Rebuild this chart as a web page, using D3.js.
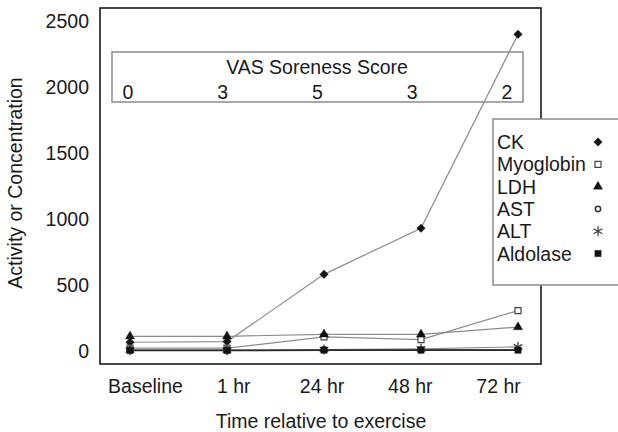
<!DOCTYPE html>
<html>
<head>
<meta charset="utf-8">
<script src="https://cdn.jsdelivr.net/npm/d3@7"></script>
<style>
  html, body { margin: 0; padding: 0; background: #fff; }
  svg text { font-family: "Liberation Sans", Arial, Helvetica, sans-serif; fill: #1a1a1a; }
</style>
</head>
<body>
<svg id="chart" width="618" height="432"></svg>
<script>
// ---- data ----
const timepoints = ["Baseline", "1 hr", "24 hr", "48 hr", "72 hr"];
const ck        = [65, 70, 580, 930, 2400];
const myoglobin = [20, 20, 105, 85, 305];
const ldh       = [110, 110, 125, 125, 180];
const ast       = [10, 10, 10, 10, 10];
const alt       = [5, 5, 10, 15, 30];
const aldolase  = [2, 2, 5, 5, 5];
const seriesNames = ["CK", "Myoglobin", "LDH", "AST", "ALT", "Aldolase"];
const vasScores = [0, 3, 5, 3, 2];
const yTicks = [0, 500, 1000, 1500, 2000, 2500];

const seriesValues = [ck, myoglobin, ldh, ast, alt, aldolase];
const symbols = [d3.symbolDiamond2, d3.symbolSquare, d3.symbolTriangle, d3.symbolCircle, d3.symbolAsterisk, d3.symbolSquare];
const symSize = [46, 36, 36, 22, 70, 40];
const symFill = ["#111", "#fff", "#111", "#fff", "none", "#111"];
const symStroke = ["#111", "#444", "#111", "#333", "#444", "#111"];
const symStrokeW = [0.4, 1.2, 0.4, 1.5, 1.3, 0.4];
const lineColor = ["#8c8c8c", "#8c8c8c", "#8c8c8c", "#8c8c8c", "#8c8c8c", "#2a2a2a"];

const svg = d3.select("#chart");
const plot = { left: 100, right: 541, top: 8, bottom: 364 };
const FS = "19.5px";

const x = d3.scalePoint().domain(timepoints).range([130, 518]);
const xLabel = d3.scalePoint().domain(timepoints).range([145, 498]);
const y = d3.scaleLinear().domain([-100, 2600]).range([plot.bottom, plot.top]);

// VAS box
const vasX = d3.scalePoint().domain(d3.range(vasScores.length)).range([128, 507]);
svg.append("rect")
  .attr("x", 112).attr("y", 52).attr("width", 411).attr("height", 50)
  .attr("fill", "none").attr("stroke", "#8a8a8a").attr("stroke-width", 1.5);
svg.append("text").attr("x", 317).attr("y", 73.5).attr("text-anchor", "middle")
  .style("font-size", FS).text("VAS Soreness Score");
svg.selectAll(".vas").data(vasScores).join("text")
  .attr("class", "vas")
  .attr("x", (d, i) => vasX(i)).attr("y", 98.5).attr("text-anchor", "middle")
  .style("font-size", FS).text(d => d);

// lines
const line = d3.line().x((d, i) => x(timepoints[i])).y(d => y(d));
seriesValues.forEach((vals, s) => {
  svg.append("path").datum(vals)
    .attr("d", line).attr("fill", "none")
    .attr("stroke", lineColor[s]).attr("stroke-width", s === 5 ? 1.6 : 1.2);
});

// markers
function drawSymbol(g, s, cx, cy) {
  return g.append("path")
    .attr("d", d3.symbol().type(symbols[s]).size(symSize[s])())
    .attr("transform", `translate(${cx},${cy})`)
    .attr("fill", symFill[s]).attr("stroke", symStroke[s])
    .attr("stroke-width", symStrokeW[s]);
}
seriesValues.forEach((vals, s) => {
  const g = svg.append("g");
  vals.forEach((v, i) => drawSymbol(g, s, x(timepoints[i]), y(v)));
});

// plot frame
svg.append("rect")
  .attr("x", plot.left).attr("y", plot.top)
  .attr("width", plot.right - plot.left).attr("height", plot.bottom - plot.top)
  .attr("fill", "none").attr("stroke", "#1a1a1a").attr("stroke-width", 1.6);

// axes
const yAxis = svg.append("g").attr("transform", `translate(${plot.left},0)`)
  .call(d3.axisLeft(y).tickValues(yTicks).tickFormat(d3.format("d")).tickSize(0).tickPadding(11));
yAxis.select(".domain").remove();
yAxis.selectAll("text").style("font-size", FS).attr("fill", "#1a1a1a");

const xAxis = svg.append("g").attr("transform", `translate(0,${plot.bottom})`)
  .call(d3.axisBottom(xLabel).tickSize(0).tickPadding(15));
xAxis.select(".domain").remove();
xAxis.selectAll("text").style("font-size", FS).attr("fill", "#1a1a1a");

// axis titles
svg.append("text").attr("x", 321).attr("y", 428).attr("text-anchor", "middle")
  .style("font-size", FS).text("Time relative to exercise");
svg.append("text").attr("transform", "translate(22,183) rotate(-90)")
  .attr("text-anchor", "middle").style("font-size", FS).text("Activity or Concentration");

// legend
const leg = svg.append("g");
leg.append("rect").attr("x", 493).attr("y", 119).attr("width", 140).attr("height", 166)
  .attr("fill", "#fff").attr("stroke", "#8a8a8a").attr("stroke-width", 1.5);
seriesNames.forEach((name, s) => {
  const cy = 142 + s * 22.3;
  leg.append("text").attr("x", 497).attr("y", cy + 7).style("font-size", FS).text(name);
  drawSymbol(leg, s, 598, cy);
});
</script>
</body>
</html>
